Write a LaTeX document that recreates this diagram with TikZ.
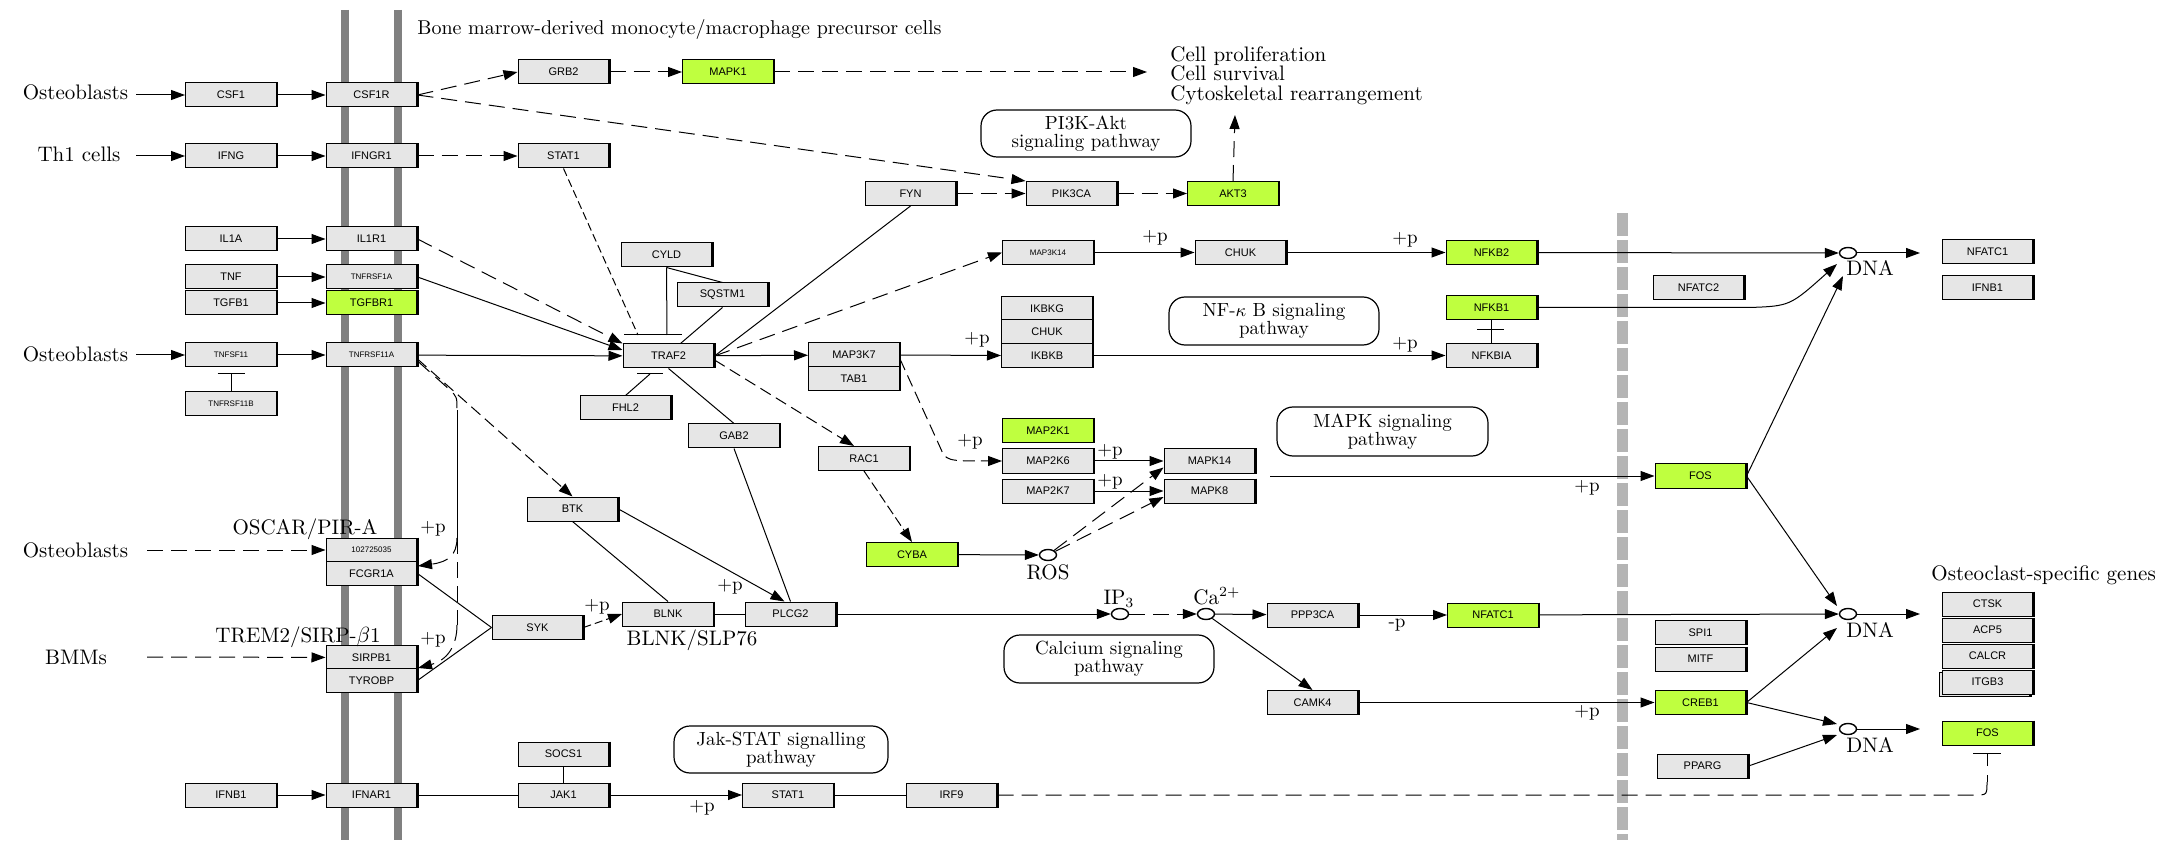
\documentclass[tikz,border=0pt]{standalone}
\usepackage{fontspec}
\newfontfamily\gsans{Liberation Sans}
\usetikzlibrary{arrows.meta,shapes.geometric}
\definecolor{genegray}{RGB}{230,230,230}
\definecolor{hitgreen}{RGB}{191,255,63}
\definecolor{membgray}{RGB}{128,128,128}
\definecolor{nucgray}{RGB}{180,180,180}
\newcommand\genefont{\gsans\fontsize{5.5}{6}\selectfont}
\newcommand\sgenefont{\gsans\fontsize{4}{4.5}\selectfont}
\newcommand\labfont{\fontsize{10.5}{11}\selectfont}
\newcommand\pfont{\fontsize{9.5}{10}\selectfont}
\newcommand\pwfont{\fontsize{9.5}{9.2}\selectfont}
\newcommand\cellfont{\fontsize{10.5}{9.7}\selectfont\lineskiplimit=-20pt}
\begin{document}
\begin{tikzpicture}[x=0.5pt,y=-0.5pt,
  gene/.style={draw=black,line width=0.5pt,fill=genegray,minimum width=45.5pt,minimum height=12pt,inner sep=0pt,font=\genefont,
    append after command={(\tikzlastnode.north east) edge[line width=1.1pt] (\tikzlastnode.south east)}},
  hit/.style={gene,fill=hitgreen},
  sm/.style={font=\sgenefont},
  lab/.style={font=\labfont,inner sep=0pt},
  plab/.style={font=\pfont,inner sep=0pt},
  pw/.style={draw,line width=0.6pt,rounded corners=8pt,align=center,font=\pwfont,inner sep=0pt},
  cpd/.style={draw,ellipse,line width=0.7pt,minimum width=8.5pt,minimum height=5.5pt,inner sep=0pt,fill=white},
  act/.style={-{Triangle[length=7pt,width=5pt]},line width=0.5pt},
  ln/.style={line width=0.5pt},
  dsh/.style={dash pattern=on 8pt off 4pt},
  memb/.style={line width=4pt,membgray}]
\useasboundingbox (0,0) rectangle (2176,850);

% membranes
\draw[memb] (345,10) -- (345,840);
\draw[memb] (398,10) -- (398,840);
\draw[line width=5.5pt,nucgray,dash pattern=on 11.5pt off 2pt] (1622,213) -- (1622,840);

% pathway boxes
\node[pw,minimum width=105pt,minimum height=23.5pt] (pi3k) at (1086,133.5) {PI3K-Akt\\signaling pathway};
\node[pw,minimum width=105pt,minimum height=24pt] (nfkbpw) at (1274,321) {NF-$\kappa$ B signaling\\pathway};
\node[pw,minimum width=105.5pt,minimum height=24.5pt] (mapkpw) at (1382.5,431.5) {MAPK signaling\\pathway};
\node[pw,minimum width=105pt,minimum height=24pt] (capw) at (1109,659) {Calcium signaling\\pathway};
\node[pw,minimum width=107pt,minimum height=23.5pt] (jakpw) at (781,749.5) {Jak-STAT signalling\\pathway};

% genes left
\node[gene] (csf1) at (231,95) {CSF1};
\node[gene] (csfr) at (371.5,95) {CSF1R};
\node[gene] (ifng) at (231,156) {IFNG};
\node[gene] (ifngr) at (371.5,156) {IFNGR1};
\node[gene] (il1a) at (231,239) {IL1A};
\node[gene] (il1r) at (371.5,239) {IL1R1};
\node[gene] (tnf) at (231,277) {TNF};
\node[gene,sm] (tnfr) at (371.5,277) {TNFRSF1A};
\node[gene] (tgfb) at (231,303) {TGFB1};
\node[hit] (tgfbr) at (371.5,303) {TGFBR1};
\node[gene,sm] (tnfsf) at (231,355) {TNFSF11};
\node[gene,sm] (rank) at (371.5,355) {TNFRSF11A};
\node[gene,sm] (opg) at (231,404) {TNFRSF11B};
\node[gene,sm] (oscar) at (371.5,550) {102725035};
\node[gene] (fcgr) at (371.5,573.5) {FCGR1A};
\node[gene] (sirp) at (371.5,657.5) {SIRPB1};
\node[gene] (tyro) at (371.5,680.5) {TYROBP};
\node[gene] (ifnb) at (231,795) {IFNB1};
\node[gene] (ifnar) at (371.5,795) {IFNAR1};

% genes middle
\node[gene] (grb2) at (563.5,72) {GRB2};
\node[hit] (mapk1) at (728,72) {MAPK1};
\node[gene] (stat1a) at (563.5,156) {STAT1};
\node[gene] (cyld) at (666.5,255) {CYLD};
\node[gene] (sqstm) at (722.5,295) {SQSTM1};
\node[gene] (traf2) at (668.5,356) {TRAF2};
\node[gene] (fhl2) at (625.5,408) {FHL2};
\node[gene] (map3k7) at (854,355) {MAP3K7};
\node[gene] (tab1) at (854,379) {TAB1};
\node[gene] (gab2) at (734,436) {GAB2};
\node[gene] (btk) at (572.5,509) {BTK};
\node[gene] (syk) at (537.5,627.5) {SYK};
\node[gene] (blnk) at (668,614) {BLNK};
\node[gene] (plcg2) at (790.5,614) {PLCG2};
\node[gene] (socs1) at (563.5,754) {SOCS1};
\node[gene] (jak1) at (563.5,795) {JAK1};
\node[gene] (stat1b) at (788,795) {STAT1};
\node[gene] (irf9) at (951.5,795) {IRF9};
\node[gene] (fyn) at (910.5,193.5) {FYN};
\node[gene] (pik3ca) at (1071.5,193.5) {PIK3CA};
\node[hit] (akt3) at (1233,193.5) {AKT3};
\node[gene,sm] (map3k14) at (1048,252.5) {MAP3K14};
\node[gene] (chuk1) at (1240.5,252.5) {CHUK};
\node[gene] (ikbkg) at (1047,308.5) {IKBKG};
\node[gene] (chuk2) at (1047,332) {CHUK};
\node[gene] (ikbkb) at (1047,355.5) {IKBKB};
\node[hit] (nfkb2) at (1491.5,252.5) {NFKB2};
\node[hit] (nfkb1) at (1491.5,307.5) {NFKB1};
\node[gene] (nfkbia) at (1491.5,355.5) {NFKBIA};
\node[gene] (rac1) at (864,458.5) {RAC1};
\node[hit] (cyba) at (912,554.5) {CYBA};
\node[hit] (map2k1) at (1048,431) {MAP2K1};
\node[gene] (map2k6) at (1048,461) {MAP2K6};
\node[gene] (map2k7) at (1048,491) {MAP2K7};
\node[gene] (mapk14) at (1209.5,461) {MAPK14};
\node[gene] (mapk8) at (1209.5,491) {MAPK8};
\node[gene] (ppp3ca) at (1312.5,615) {PPP3CA};
\node[gene] (camk4) at (1312.5,702.5) {CAMK4};
\node[hit] (nfatc1a) at (1493,615) {NFATC1};

% genes right
\node[gene] (nfatc2) at (1698.5,288) {NFATC2};
\node[hit] (fosa) at (1700.5,476) {FOS};
\node[gene] (spi1) at (1700.5,632.5) {SPI1};
\node[gene] (mitf) at (1700.5,659) {MITF};
\node[hit] (creb1) at (1700.5,702.5) {CREB1};
\node[gene] (pparg) at (1702.5,766) {PPARG};
\node[gene] (nfatc1b) at (1987.5,252) {NFATC1};
\node[gene] (ifnbb) at (1987.5,288) {IFNB1};
\node[gene] (ctsk) at (1987.5,604) {CTSK};
\node[gene] (acp5) at (1987.5,630) {ACP5};
\node[gene] (calcr) at (1987.5,656) {CALCR};
\node[gene] (itgb3back) at (1984.5,684) {};
\node[gene] (itgb3) at (1987.5,682) {ITGB3};
\node[hit] (fosb) at (1987.5,733) {FOS};

% compounds
\node[cpd] (dna1) at (1848,253) {};
\node[cpd] (dna2) at (1848,614) {};
\node[cpd] (dna3) at (1848,729) {};
\node[cpd] (ros) at (1048,555) {};
\node[cpd] (ip3) at (1120,614) {};
\node[cpd] (ca) at (1206,614) {};

% labels
\node[lab,anchor=base] (ob1) at (75.5,100) {Osteoblasts};
\node[lab,anchor=base] (th1) at (79,162) {Th1 cells};
\node[lab,anchor=base] (ob2) at (75.5,362) {Osteoblasts};
\node[lab,anchor=base] (ob3) at (75.5,557) {Osteoblasts};
\node[lab,anchor=base] (bmm) at (76,664) {BMMs};
\node[font=\fontsize{10}{11}\selectfont,inner sep=0pt,anchor=base west] (title) at (417,35) {Bone marrow-derived monocyte/macrophage precursor cells};
\node[font=\cellfont,inner sep=0pt,anchor=north west,align=left] (cellfx) at (1170,46) {Cell proliferation\\Cell survival\\Cytoskeletal rearrangement};
\node[lab,anchor=base] (oscarlab) at (305,534) {OSCAR/PIR-A};
\node[lab,anchor=base] (tremlab) at (298,642) {TREM2/SIRP-$\beta$1};
\node[lab,anchor=base] (blnklab) at (692,645) {BLNK/SLP76};
\node[lab,anchor=base west] (oclab) at (1931,580) {Osteoclast-specific genes};
\node[lab,anchor=base west] (dnal1) at (1846,276) {DNA};
\node[lab,anchor=base west] (dnal2) at (1846,637) {DNA};
\node[lab,anchor=base west] (dnal3) at (1846,752) {DNA};
\node[lab,anchor=base] (roslab) at (1048,579) {ROS};
\node[lab,anchor=base] (ip3lab) at (1119,604) {IP$_3$};
\node[lab,anchor=base west] (calab) at (1193,604) {Ca$^{2+}$};

% +p labels
\node[plab] (p1) at (433,529) {+p};
\node[plab] (p2) at (433,640) {+p};
\node[plab] (p3) at (597,607) {+p};
\node[plab] (p4) at (730,587) {+p};
\node[plab] (p5) at (977,340) {+p};
\node[plab] (p6) at (1155,238) {+p};
\node[plab] (p7) at (1405,240) {+p};
\node[plab] (p8) at (1405,345) {+p};
\node[plab] (p9) at (970,442) {+p};
\node[plab] (p10) at (1110,452) {+p};
\node[plab] (p11) at (1110,482) {+p};
\node[plab] (p12) at (1587,488) {+p};
\node[plab] (p13) at (1587,713) {+p};
\node[plab] (p14) at (702,808) {+p};
\node[plab] (m1) at (1397,625) {-p};

% free ends
\coordinate (s1) at (136,95);
\coordinate (s2) at (136,156);
\coordinate (s3) at (136,355);
\coordinate (s4) at (147,550);
\coordinate (s5) at (147,657);
\coordinate (mapk1out) at (1147,72);
\coordinate (aktout) at (1235,115);
\coordinate (stat1bar) at (638,335);
\coordinate (cyldbar) at (667,335);
\coordinate (fhlbar) at (650,374);
\coordinate (opgbar) at (231,374);
\coordinate (nfbar) at (1490.5,330);
\coordinate (mapkout) at (1270,476);
\coordinate (d1in2) at (1837,264);
\coordinate (d1in3) at (1843,276);
\coordinate (d2in1) at (1837,606);
\coordinate (d2in3) at (1837,628);
\coordinate (d3in1) at (1837,724);
\coordinate (d3in2) at (1837,735);
\coordinate (d1out) at (1920,253);
\coordinate (d2out) at (1920,614);
\coordinate (d3out) at (1920,729);
\coordinate (fosbar) at (1987,753);
\coordinate (foscorner) at (1987,782);
\coordinate (fcgrin) at (418,566);
\coordinate (tyroin) at (418,668);
\coordinate (rv1) at (457,410);
\coordinate (rv2) at (457,538);
\coordinate (rv3) at (457,625);

% input arrows
\draw[act] (s1) -- (csf1);
\draw[act] (s2) -- (ifng);
\draw[act] (s3) -- (tnfsf);
\draw[act,dsh] (s4) -- (oscar);
\draw[act,dsh] (s5) -- (sirp);
\draw[act] (csf1) -- (csfr);
\draw[act] (ifng) -- (ifngr);
\draw[act] (il1a) -- (il1r);
\draw[act] (tnf) -- (tnfr);
\draw[act] (tgfb) -- (tgfbr);
\draw[act] (tnfsf) -- (rank);
\draw[act] (ifnb) -- (ifnar);
\draw[ln] (opg.north) -- (opgbar);
\draw[ln] ([xshift=-6.75pt]opgbar) -- ([xshift=6.75pt]opgbar);

% CSF1R / IFNGR1
\draw[act,dsh] (csfr.east) -- (grb2.west);
\draw[act,dsh] (grb2) -- (mapk1);
\draw[act,dsh] (mapk1) -- (mapk1out);
\draw[act,dsh] (csfr.east) -- (pik3ca.north west);
\draw[act,dsh] (ifngr) -- (stat1a);
\draw[ln,dash pattern=on 4pt off 2pt] (stat1a.south) -- (stat1bar);
\draw[ln] ([xshift=-7pt]stat1bar) -- ([xshift=7pt]stat1bar);
\draw[ln] (cyld.south) -- (cyldbar);
\draw[ln] ([xshift=-7.5pt]cyldbar) -- ([xshift=7.5pt]cyldbar);
\draw[ln] (cyld.south) -- (sqstm.north);
\draw[ln] (sqstm.south) -- ([xshift=6pt]traf2.north);
\draw[ln] (fhl2.north) -- (fhlbar);
\draw[ln] ([xshift=-6.5pt]fhlbar) -- ([xshift=6.5pt]fhlbar);

% into TRAF2
\draw[act,dsh] (il1r.east) -- (traf2.north west);
\draw[act] (tnfr.east) -- ([yshift=3pt]traf2.west);
\draw[act] (rank) -- (traf2);
\draw[act] (traf2) -- (map3k7);
\draw[ln] (fyn.south) -- (traf2.east);
\draw[act,dsh] (traf2.east) -- (map3k14.west);
\draw[act,dash pattern=on 6pt off 3pt] ([yshift=-2pt]traf2.east) -- ([xshift=-5pt]rac1.north);
\draw[ln] (traf2.south) -- (gab2.north);
\draw[ln] (gab2.south) -- (plcg2.north);

% RANK downstream
\draw[act,dash pattern=on 6pt off 3pt] ([yshift=-2pt]rank.east) -- (btk.north);
\draw[ln,dsh] ([yshift=-3pt]rank.east) -- (450,390) .. controls (457,397) .. (rv1);
\draw[ln] (rv1) -- (rv2);
\draw[act,dsh] (rv2) .. controls (457,555) and (448,562) .. (fcgrin);
\draw[ln,dsh] (rv2) -- (rv3);
\draw[act,dsh] (rv3) .. controls (457,645) and (448,660) .. (tyroin);
\draw[ln] (fcgr.east) -- (syk.west);
\draw[ln] (tyro.east) -- (syk.west);
\draw[act,dash pattern=on 4pt off 2pt] (syk.east) -- (blnk.west);
\draw[ln] (btk.south) -- (blnk.north);
\draw[act] (btk.east) -- ([xshift=-3pt]plcg2.north);
\draw[ln] (blnk) -- (plcg2);
\draw[act] (plcg2) -- (ip3);
\draw[act,dsh] (ip3) -- (ca);
\draw[act] (ca) -- (ppp3ca);
\draw[act] (ca) -- (camk4.north);
\draw[act] (ppp3ca) -- (nfatc1a);
\draw[act] (camk4) -- (creb1);
\draw[act] (nfatc1a) -- (dna2);

% PI3K
\draw[act,dsh] (fyn) -- (pik3ca);
\draw[act,dsh] (pik3ca) -- (akt3);
\draw[act,dsh] (akt3.north) -- (aktout);

% NF-kB
\draw[act] (map3k7.east) -- (ikbkb.west);
\draw[act] (map3k14) -- (chuk1);
\draw[act] (chuk1) -- (nfkb2);
\draw[act] (ikbkb) -- (nfkbia);
\draw[ln] (nfkbia.north) -- (nfkb1.south);
\draw[ln] ([xshift=-6.75pt]nfbar) -- ([xshift=6.75pt]nfbar);

% MAPK
\draw[act,dash pattern=on 6pt off 3pt] ([yshift=-2pt]map3k7.east) -- (940,447) .. controls (946,461) .. (map2k6.west);
\draw[act,dash pattern=on 5pt off 2pt] (rac1.south) -- (cyba.north);
\draw[act] (cyba) -- (ros);
\draw[act,dsh] (ros) -- ([yshift=3pt]mapk14.south west);
\draw[act,dsh] (ros) -- ([yshift=-3pt]mapk8.west);
\draw[act] (map2k6) -- (mapk14);
\draw[act] (map2k7) -- (mapk8);
\draw[act] (mapkout) -- (fosa);

% nucleus
\draw[act] (nfkb2) -- (dna1);
\draw[act] (nfkb1.east) -- (1750,307.5) .. controls (1790,306) .. (d1in2);
\draw[act] (fosa.east) -- (d1in3);
\draw[act] (fosa.east) -- (d2in1);
\draw[act] (creb1.east) -- (d2in3);
\draw[act] (creb1.east) -- (d3in1);
\draw[act] (pparg.east) -- (d3in2);
\draw[act] (dna1) -- (d1out);
\draw[act] (dna2) -- (d2out);
\draw[act] (dna3) -- (d3out);

% Jak-STAT
\draw[ln] (ifnar) -- (jak1);
\draw[ln] (socs1) -- (jak1);
\draw[act] (jak1) -- (stat1b);
\draw[ln] (stat1b) -- (irf9);
\draw[ln,dsh] (irf9.east) -- (1975,795) .. controls (1987,795) .. (foscorner);
\draw[ln] (foscorner) -- (1987,775);
\draw[ln] (1987,766) -- (fosbar);
\draw[ln] ([xshift=-7pt]fosbar) -- ([xshift=7pt]fosbar);
\end{tikzpicture}
\end{document}
